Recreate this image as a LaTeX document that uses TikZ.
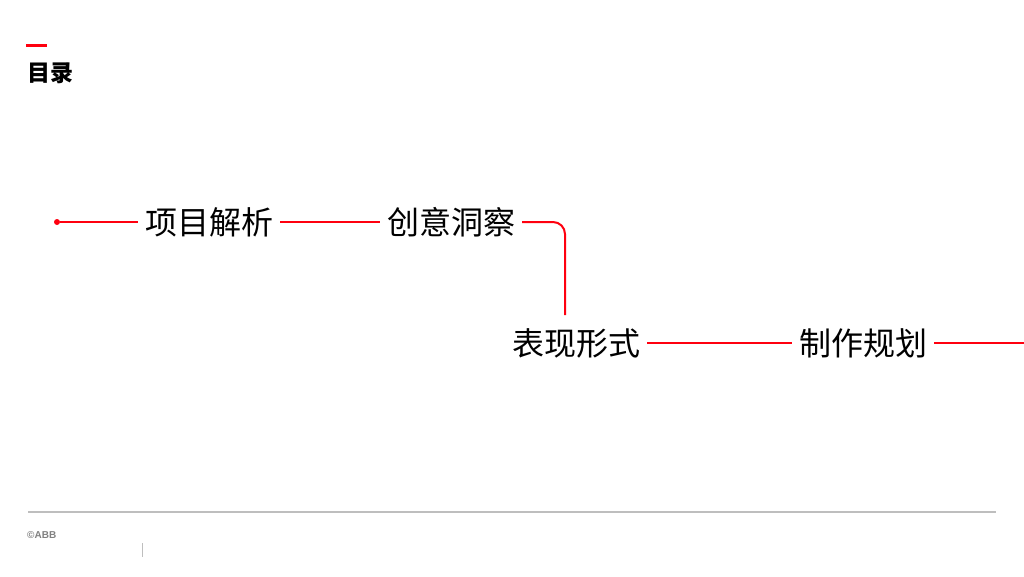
\documentclass[tikz,border=0pt]{standalone}
\usepackage{fontspec}
\setmainfont{Liberation Sans}
\newfontfamily\cjk{Noto Sans CJK SC}
\definecolor{abbred}{RGB}{255,0,15}
\definecolor{footgrey}{RGB}{190,190,190}
\usetikzlibrary{positioning}

\begin{document}
\begin{tikzpicture}[x=1pt, y=-1pt,
    stage/.style={inner xsep=7pt, inner ysep=0pt, font=\cjk\fontsize{32}{32}\selectfont},
    link/.style={draw=abbred, line width=2pt}]

        \useasboundingbox (0,0) rectangle (1024,576);

        % header
        \draw [abbred, line width=3pt] (26,45) -- (47,45);
        \node (title) [anchor=west, inner sep=0pt, font=\cjk\bfseries\fontsize{23}{23}\selectfont] at (27,73) {目录};

        % stages
        \node (start) [circle, fill=abbred, inner sep=0pt, minimum size=6pt] at (57,222) {};
        \node (s1) [stage] at (209,222) {项目解析};
        \node (s2) [stage] at (451,222) {创意洞察};
        \node (s3) [stage] at (576,343) {表现形式};
        \node (s4) [stage] at (863,343) {制作规划};
        \coordinate (drop) at (565,315);
        \coordinate (tail) at (1024,343);

        \draw [link] (start) -- (s1);
        \draw [link] (s1) -- (s2);
        \draw [link, rounded corners=12pt] (s2.east) -| (drop);
        \draw [link] (s3) -- (s4);
        \draw [link] (s4.east) -- (tail);

        % footer
        \draw [footgrey, line width=1.2pt] (28,512) -- (996,512);
        \node (copy) [anchor=west, inner sep=0pt, text=gray, font=\bfseries\fontsize{10}{10}\selectfont] at (27,535) {©ABB};
        \draw [footgrey, line width=1pt] (142,543) -- (142,557);

    \end{tikzpicture}
\end{document}
